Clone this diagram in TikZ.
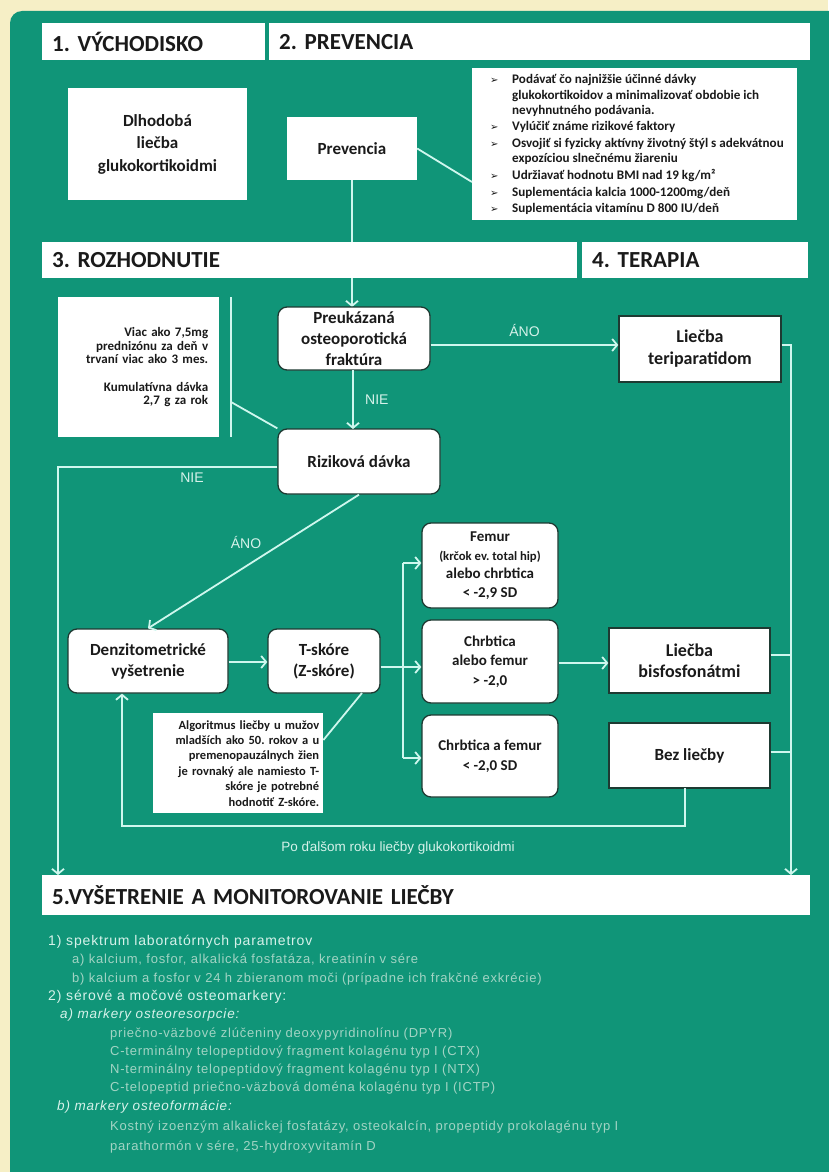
\documentclass[tikz,border=0pt]{standalone}
\usepackage{fontspec}
\setmainfont{Carlito}
\newfontfamily\arial{Liberation Sans}
\newfontfamily\arialsp{Liberation Sans}[LetterSpace=6]
\newfontfamily\dejavu{DejaVu Sans}
\usetikzlibrary{arrows.meta,calc}
\frenchspacing
\definecolor{cream}{HTML}{F6EFC6}
\definecolor{panel}{HTML}{109578}
\definecolor{conn}{HTML}{CFF7EE}
\definecolor{boxline}{HTML}{1E3A32}
\definecolor{txtdark}{HTML}{1A1A1A}
\definecolor{lbltext}{HTML}{D6F2EA}
\definecolor{dimtext}{HTML}{A2D4C4}
\newcommand{\bul}{{\dejavu\fontsize{10}{15}\selectfont ➢}}
\tikzset{
  plain/.style={fill=white, align=center, text=txtdark, font=\bfseries},
  box/.style={plain, draw=boxline, line width=1.3pt},
  rbox/.style={box, rounded corners=9pt},
  hdr/.style={fill=white, anchor=north west, align=left, text=txtdark,
    font={\fontsize{23}{25}\selectfont\bfseries\spaceskip=0.17em\relax}, inner xsep=10pt, minimum height=37pt},
  flow/.style={font=\bfseries\fontsize{17}{21}\selectfont},
  small/.style={font=\bfseries\fontsize{15}{18.5}\selectfont},
  con/.style={draw=conn, line width=1.8pt},
  arr/.style={con, -{Straight Barb[length=5pt,width=12pt,line width=1.8pt]}},
  lbl/.style={text=lbltext, font=\arial\fontsize{14}{16}\selectfont},
  main/.style={anchor=base west, text=lbltext, inner sep=0pt, font=\arialsp\fontsize{14}{16}\selectfont},
  sub/.style={anchor=base west, text=dimtext, inner sep=0pt, font=\arialsp\fontsize{13}{15}\selectfont},
  subit/.style={anchor=base west, text=lbltext, inner sep=0pt, font=\arialsp\itshape\fontsize{13.5}{15}\selectfont},
}
\begin{document}
\begin{tikzpicture}[x=1pt,y=-1pt]
\useasboundingbox (0,0) rectangle (828,1172);
\fill[cream] (0,0) rectangle (828,1172);
\fill[panel, rounded corners=12pt] (10,11) rectangle (850,1195);

% headers
\node[hdr, text width=203pt] (h1) at (42,23) {1. VÝCHODISKO};
\node[hdr, text width=521pt] (h2) at (269,23) {2. PREVENCIA};

% section 1/2 boxes
\node[plain, flow, minimum width=179pt, minimum height=112pt, font=\bfseries\fontsize{17}{22.5}\selectfont] (dl) at (157.5,144) {Dlhodobá\\liečba\\glukokortikoidmi};
\node[plain, flow, minimum width=130pt, minimum height=63pt] (prev) at (352,148.5) {Prevencia};
\node[plain, anchor=north west, minimum width=325pt, minimum height=152pt] (bul) at (472,68) {};
\node[anchor=north west, inner sep=0pt, align=left, text=txtdark, font=\bfseries\fontsize{13.1}{15.2}\selectfont] (bultxt) at (490,73) {%
\begin{tabular}{@{}p{22pt}@{}l@{}}
\bul & Podávať čo najnižšie účinné dávky\\
 & glukokortikoidov a minimalizovať obdobie ich\\
 & nevyhnutného podávania.\\[1.5pt]
\bul & Vylúčiť známe rizikové faktory\\[1.5pt]
\bul & Osvojiť si fyzicky aktívny životný štýl s adekvátnou\\
 & expozíciou slnečnému žiareniu\\[1.5pt]
\bul & Udržiavať hodnotu BMI nad 19 kg/m²\\[1.5pt]
\bul & Suplementácia kalcia 1000-1200mg/deň\\[1.5pt]
\bul & Suplementácia vitamínu D 800 IU/deň
\end{tabular}};

\draw[con] (prev.east) -- ($(bul.north west)+(0,114)$);
\draw[arr] (prev.south) -- (prev.south |- 0,307);

\node[hdr, text width=515pt, minimum height=36pt] (h3) at (42,242) {3. ROZHODNUTIE};
\node[hdr, text width=206pt, minimum height=36pt] (h4) at (582,242) {4. TERAPIA};

% section 3
\node[plain, anchor=north west, minimum width=161pt, minimum height=140pt, text width=139pt, inner xsep=11pt, align=right, font=\bfseries\fontsize{13}{13.6}\selectfont] (info) at (58,297) {Viac ako 7,5mg\\prednizónu za deň v\\trvaní viac ako 3 mes.\\[13.6pt]Kumulatívna dávka\\2,7 g za rok};
\coordinate (sept) at (231,297);
\coordinate (sepb) at (231,437);
\coordinate (diag) at (231,402);

\node[rbox, flow, minimum width=152pt, minimum height=63pt] (preuk) at (354,338.5) {Preukázaná\\osteoporotická\\fraktúra};
\node[box, flow, minimum width=162pt, minimum height=66pt, font=\bfseries\fontsize{18}{22}\selectfont] (ter) at (700,349) {Liečba\\teriparatidom};
\node[rbox, flow, minimum width=162pt, minimum height=65pt] (riz) at (359,461.5) {Riziková dávka};

\draw[con] (sept) -- (sepb);
\draw[con] (diag) -- (riz.north west);

\node[rbox, flow, minimum width=160pt, minimum height=64pt] (dens) at (148,661) {Denzitometrické\\vyšetrenie};
\node[rbox, flow, minimum width=112pt, minimum height=64pt] (tsk) at (324,661) {T-skóre\\(Z-skóre)};

\node[rbox, small, minimum width=136pt, minimum height=85pt] (fem) at (490,565.5) {Femur\\{\fontsize{12.7}{17}\selectfont(krčok ev. total hip)}\\alebo chrbtica\\< -2,9 SD};
\node[rbox, small, minimum width=136pt, minimum height=83pt, font=\bfseries\fontsize{15}{19.5}\selectfont] (chra) at (490,661.5) {Chrbtica\\alebo femur\\> -2,0};
\node[rbox, small, minimum width=136pt, minimum height=82pt, font=\bfseries\fontsize{15}{20}\selectfont] (chrb) at (490,756) {Chrbtica a femur\\< -2,0 SD};

\node[box, flow, minimum width=161pt, minimum height=65pt, font=\bfseries\fontsize{18}{21}\selectfont] (bis) at (689.5,660.5) {Liečba\\bisfosfonátmi};
\node[box, flow, minimum width=161pt, minimum height=65pt] (bez) at (689.5,755.5) {Bez liečby};

\node[plain, anchor=north west, minimum width=170pt, minimum height=100pt, text width=162pt, inner xsep=4pt, align=right, font=\bfseries\fontsize{12.5}{15.4}\selectfont] (note) at (153,713) {Algoritmus liečby u mužov\\mladších ako 50. rokov a u\\premenopauzálnych žien\\je rovnaký ale namiesto T-\\skóre je potrebné\\hodnotiť Z-skóre.};

\node[hdr, text width=748pt, minimum height=40pt] (h5) at (42,875) {5.VYŠETRENIE A MONITOROVANIE LIEČBY};

% connectors
\coordinate (ay) at (0,345);
\draw[arr] (ay -| preuk.east) -- node[lbl, above=4pt] (lano1) {ÁNO} (ay -| ter.west);
\draw[arr] (353,370) -- node[lbl, right=8pt] (lnie1) {NIE} (353,429);
\coordinate (nl) at (58,875);
\draw[arr] (riz.west |- 0,467) -| (nl);
\node[lbl] (lnie2) at (192,478) {NIE};
\draw[arr] (riz.south) -- (dens.north);
\node[lbl] (lano2) at (246,542) {ÁNO};
\draw[arr] (dens.east |- 0,662) -- (tsk.west |- 0,662);
\coordinate (br) at (403,667);
\draw[con] (tsk.east |- br) -- (br);
\draw[con] (403,563) -- (403,758);
\draw[arr] (403,563) -- (fem.west |- 0,563);
\draw[arr] (br) -- (chra.west |- br);
\draw[arr] (403,758) -- (chrb.west |- 0,758);
\draw[arr] (chra.east |- 0,663) -- (bis.west |- 0,663);
\coordinate (rr) at (791,875);
\draw[arr] (ter.east |- 0,345) -| (rr);
\draw[con] (bis.east |- 0,655) -- (rr |- 0,655);
\draw[con] (bez.east |- 0,752) -- (rr |- 0,752);
\coordinate (lp) at (122,826);
\draw[arr] (685,788) |- (lp) -- (lp |- dens.south);
\node[lbl, font=\arial\fontsize{13.5}{15}\selectfont] (lpo) at (398,848) {Po ďalšom roku liečby glukokortikoidmi};
\draw[con] (362,693) -- ($(note.north east)+(0,27)$);

% section 5 text
\node[main] (t1) at (48,945) {1) spektrum laboratórnych parametrov};
\node[sub] (t2) at (72,963) {a) kalcium, fosfor, alkalická fosfatáza, kreatinín v sére};
\node[sub] (t3) at (72,982) {b) kalcium a fosfor v 24 h zbieranom moči (prípadne ich frakčné exkrécie)};
\node[main] (t4) at (48,1000) {2) sérové a močové osteomarkery:};
\node[subit] (t5) at (60,1018) {a) markery osteoresorpcie:};
\node[sub] (t6) at (110,1037) {priečno-väzbové zlúčeniny deoxypyridinolínu (DPYR)};
\node[sub] (t7) at (110,1055) {C-terminálny telopeptidový fragment kolagénu typ I (CTX)};
\node[sub] (t8) at (110,1073) {N-terminálny telopeptidový fragment kolagénu typ I (NTX)};
\node[sub] (t9) at (110,1091) {C-telopeptid priečno-väzbová doména kolagénu typ I (ICTP)};
\node[subit] (t10) at (57,1110) {b) markery osteoformácie:};
\node[sub] (t11) at (110,1130) {Kostný izoenzým alkalickej fosfatázy, osteokalcín, propeptidy prokolagénu typ I};
\node[sub] (t12) at (110,1150) {parathormón v sére, 25-hydroxyvitamín D};
\end{tikzpicture}
\end{document}
